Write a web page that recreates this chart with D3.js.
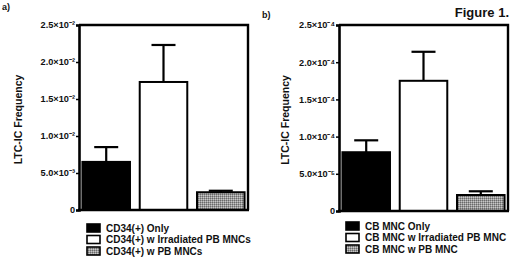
<!DOCTYPE html>
<html><head><meta charset="utf-8">
<script src="https://cdn.jsdelivr.net/npm/d3@7"></script>
<style>body{margin:0;background:#fff}svg{display:block}text{font-family:"Liberation Sans",Arial,sans-serif;font-weight:bold;fill:#111}</style>
</head><body><svg id="c" width="520" height="261"></svg>
<script>
const categoriesA = ["CD34(+) Only","CD34(+) w Irradiated PB MNCs","CD34(+) w PB MNCs"];
const valuesA = [0.0065, 0.0173, 0.0024];
const errorsA = [0.0020, 0.0050, 0.0002];
const ticksA = [0, 0.005, 0.010, 0.015, 0.020, 0.025];
const tickLabelsA = ["0","5.0×10⁻³","1.0×10⁻²","1.5×10⁻²","2.0×10⁻²","2.5×10⁻²"];

const categoriesB = ["CB MNC Only","CB MNC w Irradiated PB MNC","CB MNC w PB MNC"];
const valuesB = [0.79e-4, 1.75e-4, 0.215e-4];
const errorsB = [0.16e-4, 0.39e-4, 0.05e-4];
const ticksB = [0, 0.5e-4, 1.0e-4, 1.5e-4, 2.0e-4, 2.5e-4];
const tickLabelsB = ["0","5.0×10⁻⁵","1.0×10⁻⁴","1.5×10⁻⁴","2.0×10⁻⁴","2.5×10⁻⁴"];

const yTitle = "LTC-IC Frequency";
const svg = d3.select("#c");
const defs = svg.append("defs");
const pat = defs.append("pattern").attr("id","dots").attr("width",2).attr("height",2).attr("patternUnits","userSpaceOnUse");
pat.append("rect").attr("width",2).attr("height",2).attr("fill","#9a9a9a");
pat.append("rect").attr("width",1).attr("height",1).attr("fill","#6a6a6a");
pat.append("rect").attr("x",1).attr("y",1).attr("width",1).attr("height",1).attr("fill","#c8c8c8");
const fills = ["#000","#fff","url(#dots)"];

function panel(o){
  const g = svg.append("g");
  const x = d3.scaleBand().domain(o.cats).range([o.x0, o.x1]).paddingInner(0.17).paddingOuter(0.06);
  const y = d3.scaleLinear().domain([0, o.max]).range([o.yb, o.yt]);
  g.append("path").attr("d", `M${o.x0},${o.yt}H${o.x1}V${o.yb}`).attr("fill","none").attr("stroke","#000").attr("stroke-width",2.4);
  g.selectAll("rect.bar").data(o.vals).join("rect").attr("class","bar")
    .attr("x",(d,i)=>x(o.cats[i])).attr("width",x.bandwidth())
    .attr("y",d=>y(d)).attr("height",d=>y(0)-y(d))
    .attr("fill",(d,i)=>fills[i]).attr("stroke","#000").attr("stroke-width",2);
  o.vals.forEach((v,i)=>{
    const cx = x(o.cats[i]) + x.bandwidth()/2;
    g.append("line").attr("x1",cx).attr("x2",cx).attr("y1",y(v)).attr("y2",y(v+o.errs[i])).attr("stroke","#000").attr("stroke-width",2.2);
    g.append("line").attr("x1",cx-12).attr("x2",cx+12).attr("y1",y(v+o.errs[i])).attr("y2",y(v+o.errs[i])).attr("stroke","#000").attr("stroke-width",2.2);
  });
  const ax = g.append("g").attr("transform",`translate(${o.x0},0)`)
    .call(d3.axisLeft(y).tickValues(o.ticks).tickFormat((d,i)=>o.labels[i]).tickSize(3).tickPadding(1));
  ax.select(".domain").attr("stroke-width",2.6);
  ax.selectAll(".tick line").attr("stroke-width",1.5);
  ax.selectAll("text").style("font-size","9.2px").attr("fill","#111");
  g.append("line").attr("x1",o.x0-1).attr("x2",o.x1+1).attr("y1",o.yb).attr("y2",o.yb).attr("stroke","#000").attr("stroke-width",2.6);
  g.append("text").attr("transform",`translate(${o.tx},${(o.yt+o.yb)/2 + 2}) rotate(-90)`)
    .attr("text-anchor","middle").style("font-size","10.5px").text(yTitle);
  o.cats.forEach((c,i)=>{
    const ly = o.ly + i*11.5;
    g.append("rect").attr("x",o.lx).attr("y",ly-4).attr("width",13).attr("height",8)
      .attr("fill",fills[i]).attr("stroke","#000").attr("stroke-width",1.6);
    g.append("text").attr("x",o.lx+19).attr("y",ly+3.8).style("font-size","10px").text(c);
  });
  g.append("text").attr("x",o.px).attr("y",o.py).style("font-size","9px").text(o.plabel);
}

panel({cats:categoriesA, vals:valuesA, errs:errorsA, ticks:ticksA, labels:tickLabelsA, max:0.025,
  x0:79, x1:248, yt:25, yb:210, tx:22, lx:87, ly:228, px:2, py:10, plabel:"a)"});
panel({cats:categoriesB, vals:valuesB, errs:errorsB, ticks:ticksB, labels:tickLabelsB, max:2.5e-4,
  x0:339, x1:508, yt:25, yb:211, tx:289, lx:346, ly:226, px:262, py:18, plabel:"b)"});

svg.append("text").attr("x",509).attr("y",17).attr("text-anchor","end").style("font-size","13px").text("Figure 1.");
</script></body></html>
